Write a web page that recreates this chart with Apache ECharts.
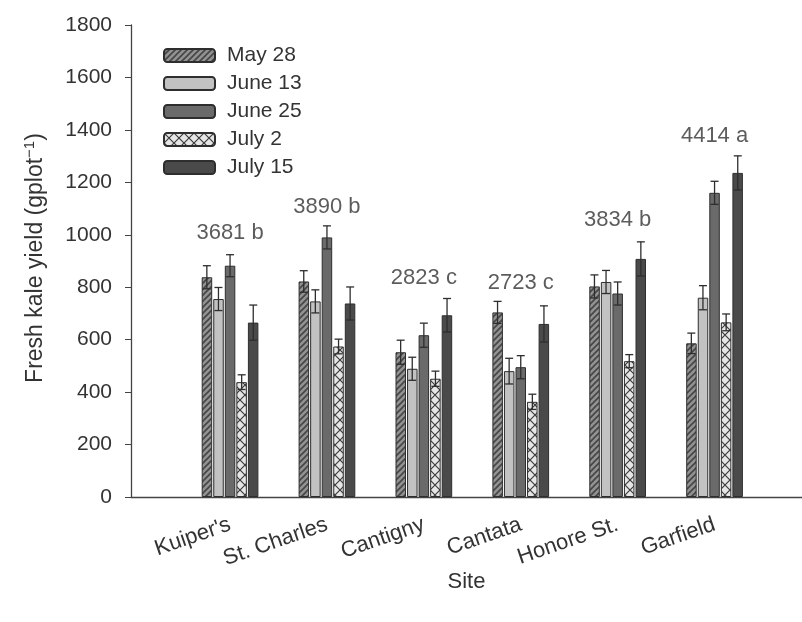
<!DOCTYPE html>
<html>
<head>
<meta charset="utf-8">
<script src="https://cdn.jsdelivr.net/npm/echarts@6/dist/echarts.min.js"></script>
<style>
  html, body { margin: 0; padding: 0; background: #fff; }
  #chart { width: 802px; height: 622px; }
</style>
</head>
<body>
<div id="chart"></div>
<script>
// ---- data ----
const sites = ["Kuiper's", "St. Charles", "Cantigny", "Cantata", "Honore St.", "Garfield"];
const dates = ["May 28", "June 13", "June 25", "July 2", "July 15"];

const may28 = [838, 822, 552, 704, 803, 586];
const june13 = [755, 746, 489, 480, 820, 760];
const june25 = [882, 990, 617, 495, 776, 1160];
const july2 = [438, 574, 451, 363, 518, 666];
const july15 = [665, 738, 693, 660, 908, 1236];

const may28Err = [44, 41, 46, 42, 44, 39];
const june13Err = [44, 44, 44, 49, 44, 46];
const june25Err = [42, 44, 46, 44, 44, 44];
const july2Err = [28, 28, 29, 29, 25, 32];
const july15Err = [67, 63, 64, 69, 65, 65];

const totals = ["3681 b", "3890 b", "2823 c", "2723 c", "3834 b", "4414 a"];
const totalsY = [1007, 1106, 835, 816, 1056, 1377];

// ---- fill patterns ----
function hatch() {
  const c = document.createElement("canvas");
  c.width = 6; c.height = 6;
  const g = c.getContext("2d");
  g.fillStyle = "#929292";
  g.fillRect(0, 0, 6, 6);
  g.strokeStyle = "#454545";
  g.lineWidth = 1.6;
  g.beginPath();
  g.moveTo(-1, 7); g.lineTo(7, -1);
  g.moveTo(-4, 4); g.lineTo(4, -4);
  g.moveTo(2, 10); g.lineTo(10, 2);
  g.stroke();
  return c;
}
function cross() {
  const c = document.createElement("canvas");
  c.width = 10; c.height = 10;
  const g = c.getContext("2d");
  g.fillStyle = "#e6e6e6";
  g.fillRect(0, 0, 10, 10);
  g.strokeStyle = "#3c3c3c";
  g.lineWidth = 1.2;
  g.beginPath();
  g.moveTo(0, 0); g.lineTo(10, 10);
  g.moveTo(10, 0); g.lineTo(0, 10);
  g.stroke();
  return c;
}

const fills = [
  { image: hatch(), repeat: "repeat" },
  "#c2c2c2",
  "#6a6a6a",
  { image: cross(), repeat: "repeat" },
  "#4a4a4a"
];
const values = [may28, june13, june25, july2, july15];
const errs = [may28Err, june13Err, june25Err, july2Err, july15Err];

const barW = 10.5;
const step = 11.6;

const chart = echarts.init(document.getElementById("chart"));

const series = [];
dates.forEach(function (d, i) {
  series.push({
    type: "bar",
    name: d,
    data: values[i],
    barWidth: barW,
    barGap: "10%",
    itemStyle: { color: fills[i], borderColor: "#2e2e2e", borderWidth: 1 },
    z: 2
  });
});
dates.forEach(function (d, i) {
  const off = (i - 2) * step;
  series.push({
    type: "custom",
    name: d + " err",
    z: 5,
    data: values[i].map(function (v, k) { return [k, v - errs[i][k], v + errs[i][k]]; }),
    renderItem: function (params, api) {
      const lo = api.coord([api.value(0), api.value(1)]);
      const hi = api.coord([api.value(0), api.value(2)]);
      const x = lo[0] + off;
      const s = { stroke: "#2e2e2e", lineWidth: 1.3 };
      return {
        type: "group",
        children: [
          { type: "line", shape: { x1: x, y1: lo[1], x2: x, y2: hi[1] }, style: s },
          { type: "line", shape: { x1: x - 4, y1: hi[1], x2: x + 4, y2: hi[1] }, style: s },
          { type: "line", shape: { x1: x - 4, y1: lo[1], x2: x + 4, y2: lo[1] }, style: s }
        ]
      };
    }
  });
});
series.push({
  type: "scatter",
  symbolSize: 0,
  z: 6,
  data: totals.map(function (t, k) { return { name: t, value: [k, totalsY[k]] }; }),
  label: {
    show: true,
    position: "inside",
    formatter: function (p) { return p.name; },
    fontFamily: "Liberation Sans",
    fontSize: 22,
    color: "#333"
  }
});

chart.setOption({
  animation: false,
  textStyle: { fontFamily: "Liberation Sans" },
  legend: {
    data: dates,
    orient: "vertical",
    left: 158,
    top: 40,
    itemWidth: 51,
    itemHeight: 13,
    itemGap: 7,
    textStyle: { fontSize: 21, color: "#333", padding: [0, 0, 0, 7] }
  },
  grid: [
    { left: 181.6, right: 39, top: 25, bottom: 125 },
    { left: 131, right: 0, top: 25, bottom: 125 }
  ],
  xAxis: [
    {
      type: "category",
      gridIndex: 0,
      data: sites,
      axisLine: { show: false },
      axisTick: { alignWithLabel: true, length: 6, lineStyle: { color: "#444" } },
      axisLabel: { interval: 0, hideOverlap: false, rotate: 19, fontSize: 22, color: "#333", margin: 27 }
    },
    {
      type: "value",
      gridIndex: 1,
      min: 0,
      max: 1,
      name: "Site",
      nameLocation: "middle",
      nameGap: 74,
      nameTextStyle: { fontSize: 22, color: "#333" },
      axisLine: { show: true, lineStyle: { color: "#444", width: 1.3 } },
      axisTick: { show: false },
      axisLabel: { show: false },
      splitLine: { show: false }
    }
  ],
  yAxis: [
    {
      type: "value",
      gridIndex: 0,
      min: 0,
      max: 1800,
      interval: 200,
      offset: 50.6,
      axisLine: { show: true, lineStyle: { color: "#444", width: 1.3 } },
      axisTick: { show: true, length: 6, lineStyle: { color: "#444" } },
      axisLabel: {
        fontSize: 21,
        color: "#333",
        margin: 19,
        formatter: function (v) { return String(v); }
      },
      splitLine: { show: false }
    },
    {
      type: "value",
      gridIndex: 1,
      min: 0,
      max: 1800,
      show: false
    }
  ],
  graphic: [
    {
      type: "text",
      x: 36,
      y: 258,
      rotation: Math.PI / 2,
      style: {
        text: "{a|Fresh kale yield (gplot}{s|−1}{a|)}",
        align: "center",
        verticalAlign: "middle",
        rich: {
          a: { fontSize: 23, fill: "#333", fontFamily: "Liberation Sans", lineHeight: 27 },
          s: { fontSize: 15, fill: "#333", fontFamily: "Liberation Sans", padding: [0, 0, 13, 0] }
        }
      }
    }
  ],
  series: series
});
</script>
</body>
</html>
